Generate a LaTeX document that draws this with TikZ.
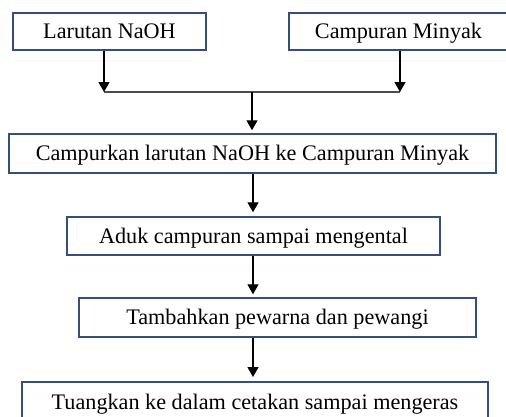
\documentclass[tikz,border=0pt]{standalone}
\usepackage{fontspec}
\setmainfont{Liberation Serif}
\usetikzlibrary{arrows.meta}
\definecolor{boxline}{HTML}{34507A}
\tikzset{
  x=1pt, y=-1pt,
  flowbox/.style={draw=boxline, line width=1.5pt, rectangle, inner sep=0pt,
    text height=14.5pt, text depth=0pt,
    font=\fontsize{22.2}{25}\selectfont, fill=white},
  arr/.style={draw=black, line width=1.3pt, -{Triangle[width=11pt,length=10pt]}},
  plain/.style={draw=black!70, line width=1.2pt}
}
\begin{document}
\begin{tikzpicture}
\useasboundingbox (0,0) rectangle (506,416);
\node[flowbox, minimum width=193pt, minimum height=37pt] (b1) at (109.5,31.5) {Larutan NaOH};
\node[flowbox, minimum width=231pt, minimum height=37pt] (b2) at (404.5,31.5) {Campuran Minyak\hspace*{12pt}};
\node[flowbox, minimum width=487pt, minimum height=39pt] (b3) at (252.5,153.5) {Campurkan larutan NaOH ke Campuran Minyak};
\node[flowbox, minimum width=373pt, minimum height=38pt] (b4) at (253.5,236) {Aduk campuran sampai mengental};
\node[flowbox, minimum width=397pt, minimum height=39pt] (b5) at (277.5,317.5) {Tambahkan pewarna dan pewangi};
\node[flowbox, minimum width=466pt, minimum height=40pt, anchor=north] (b6) at (255,381) {Tuangkan ke dalam cetakan sampai mengeras};
\coordinate (axis) at (253,0);
\coordinate (jl) at (104,92);
\coordinate (jr) at (400,92);
\coordinate (jm) at (252,92);
\draw[plain] (jl) -- (jr);
\draw[arr] (b1.south -| jl) -- (jl);
\draw[arr] (b2.south -| jr) -- (jr);
\draw[arr, shorten >=3pt] (jm) -- (b3.north -| jm);
\draw[arr, shorten >=4pt] (b3.south -| axis) -- (b4.north -| axis);
\draw[arr, shorten >=3pt] (b4.south -| axis) -- (b5.north -| axis);
\draw[arr, shorten >=4pt] (b5.south -| axis) -- (b6.north -| axis);
\end{tikzpicture}
\end{document}
